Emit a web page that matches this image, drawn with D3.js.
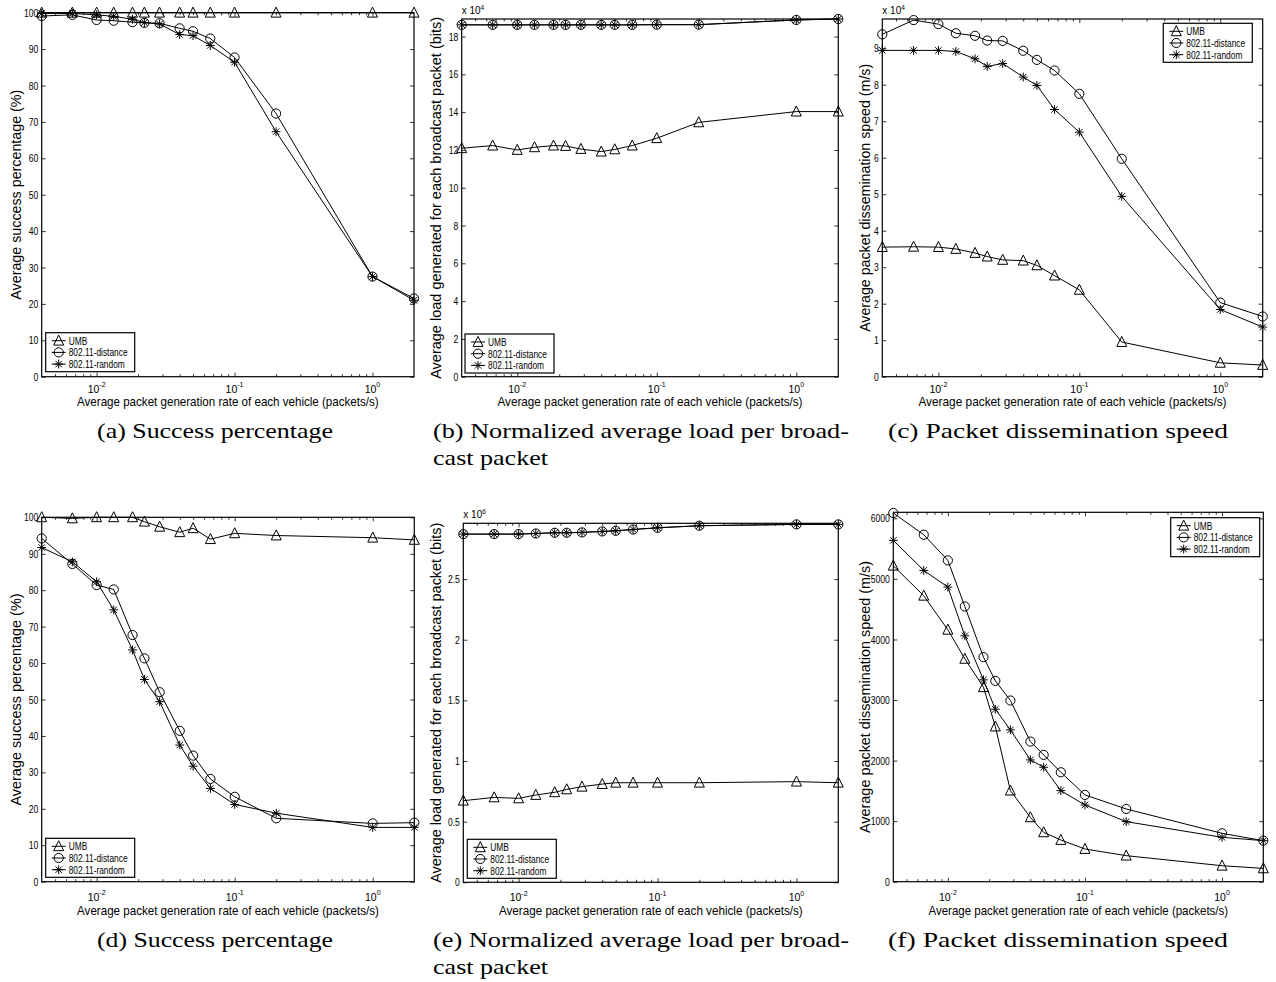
<!DOCTYPE html>
<html><head><meta charset="utf-8">
<script src="https://cdn.jsdelivr.net/npm/d3@7"></script>
<style>body{margin:0;background:#fff} svg{display:block}</style>
</head><body>
<svg id="fig" width="1276" height="982"></svg>
<script>
// ---------------- data ----------------
const rates = [0.004, 0.00667, 0.01, 0.0133, 0.0182, 0.0222, 0.0286, 0.04, 0.05, 0.0667, 0.1, 0.2, 1, 2];
const seriesNames = ["UMB", "802.11-distance", "802.11-random"];
const xMajorTicks = [0.01, 0.1, 1];
const xMajorExponents = ["-2", "-1", "0"];
const xTitle = "Average packet generation rate of each vehicle (packets/s)";

// (a) success percentage
const aTicks = [0,10,20,30,40,50,60,70,80,90,100];
const aUMB = [100,100,100,100,100,100,100,100,100,100,100,100,100,100];
const aDistance = [99.1,99.4,98.0,97.8,97.4,97.2,97.1,95.7,94.9,92.9,87.7,72.3,27.5,21.5];
const aRandom = [99.8,99.8,99.4,99.0,98.2,97.3,96.9,94.0,93.7,91.0,86.4,67.3,27.5,21.0];

// (b) load per broadcast packet (x 10^4 bits)
const bTicks = [0,2,4,6,8,10,12,14,16,18];
const bUMB = [12.09,12.23,12.0,12.14,12.23,12.21,12.05,11.91,12.03,12.23,12.62,13.46,14.03,14.03];
const bDistance = [18.62,18.62,18.62,18.62,18.62,18.62,18.62,18.62,18.62,18.62,18.63,18.63,18.88,18.93];
const bRandom = [18.62,18.62,18.62,18.62,18.62,18.62,18.62,18.62,18.62,18.62,18.63,18.63,18.88,18.93];

// (c) dissemination speed (x 10^4 m/s)
const cTicks = [0,1,2,3,4,5,6,7,8,9];
const cUMB = [3.55,3.56,3.55,3.50,3.39,3.29,3.20,3.18,3.05,2.77,2.38,0.95,0.38,0.32];
const cDistance = [9.38,9.77,9.66,9.41,9.34,9.21,9.20,8.93,8.68,8.39,7.75,5.97,2.03,1.65];
const cRandom = [8.94,8.94,8.94,8.91,8.71,8.50,8.58,8.21,7.98,7.32,6.70,4.94,1.84,1.36];

// (d) success percentage
const dTicks = [0,10,20,30,40,50,60,70,80,90,100];
const dUMB = [100,99.7,100,100,100,98.8,97.4,95.9,97.0,94.0,95.6,95.0,94.4,93.8];
const dDistance = [94.2,87.2,81.4,80.2,67.7,61.3,52.0,41.4,34.6,28.2,23.3,17.4,16.0,16.2];
const dRandom = [91.7,87.8,82.3,74.6,63.6,55.5,49.4,37.5,31.7,25.6,21.2,18.8,14.9,14.9];

// (e) load per broadcast packet (x 10^6 bits)
const eTicks = [0,0.5,1,1.5,2,2.5];
const eUMB = [0.673,0.700,0.692,0.720,0.742,0.766,0.788,0.810,0.821,0.821,0.821,0.821,0.830,0.821];
const eDistance = [2.871,2.871,2.871,2.876,2.882,2.882,2.885,2.893,2.898,2.909,2.923,2.940,2.951,2.951];
const eRandom = [2.871,2.871,2.871,2.876,2.882,2.882,2.885,2.893,2.898,2.909,2.923,2.940,2.951,2.951];

// (f) dissemination speed (m/s)
const fTicks = [0,1000,2000,3000,4000,5000,6000];
const fUMB = [5218,4722,4160,3680,3212,2562,1504,1063,815,689,540,430,264,220];
const fDistance = [6088,5730,5306,4545,3708,3317,2992,2314,2094,1807,1433,1201,799,678];
const fRandom = [5636,5140,4865,4061,3333,2848,2507,2011,1890,1504,1267,992,733,678];

const yTitles = {
  a: "Average success percentage (%)",
  b: "Average load generated for each broadcast packet (bits)",
  c: "Average packet dissemination speed (m/s)",
  d: "Average success percentage (%)",
  e: "Average load generated for each broadcast packet (bits)",
  f: "Average packet dissemination speed (m/s)"
};
const captions = {
  a: ["(a) Success percentage"],
  b: ["(b) Normalized average load per broad-", "cast packet"],
  c: ["(c) Packet dissemination speed"],
  d: ["(d) Success percentage"],
  e: ["(e) Normalized average load per broad-", "cast packet"],
  f: ["(f) Packet dissemination speed"]
};
const multipliers = { b: "4", c: "4", e: "6" };

// ---------------- layout ----------------
const panels = [
  {id:"a", ticks:aTicks, yMax:100,  series:[aUMB,aDistance,aRandom], x0:41.7, x1:414,   y0:12.7,  y1:376.7, ylabX:20.5,  ylabLen:210, leg:[45.7,332.7],  cap:[97,438,[236]],       xt:16, xl:29.5},
  {id:"b", ticks:bTicks, yMax:18.93,series:[bUMB,bDistance,bRandom], x0:461.7,x1:838.3, y0:19,    y1:376.7, ylabX:441,   ylabLen:362, leg:[465,334],     cap:[433,438,[416,115]],   xt:16, xl:29.5},
  {id:"c", ticks:cTicks, yMax:9.8,  series:[cUMB,cDistance,cRandom], x0:882.3,x1:1262.7,y0:19,    y1:376.7, ylabX:869.5, ylabLen:268, leg:[1163.3,23.3], cap:[888,438,[340]],       xt:16, xl:29.5},
  {id:"d", ticks:dTicks, yMax:100,  series:[dUMB,dDistance,dRandom], x0:41.7, x1:414.3, y0:517.3, y1:881.7, ylabX:20.5,  ylabLen:212, leg:[45.7,838.3],  cap:[97,947,[236]],       xt:19, xl:33.5},
  {id:"e", ticks:eTicks, yMax:2.96, series:[eUMB,eDistance,eRandom], x0:463.3,x1:838.3, y0:523.3, y1:882.3, ylabX:441,   ylabLen:360, leg:[467.3,839.3], cap:[433,947,[416,115]],   xt:19, xl:33},
  {id:"f", ticks:fTicks, yMax:6100, series:[fUMB,fDistance,fRandom], x0:893.3,x1:1263.3,y0:512.3, y1:881.7, ylabX:869.5, ylabLen:272, leg:[1170.7,517.7],cap:[888,947,[340]],       xt:19, xl:33.5}
];

const SANS = "'Liberation Sans', Arial, Helvetica, sans-serif";
const SERIF = "'Liberation Serif', 'Times New Roman', serif";
const svg = d3.select("#fig");

function squeeze(sel, f) {
  sel.each(function(){
    const L = this.getComputedTextLength();
    this.setAttribute("textLength", L * f);
    this.setAttribute("lengthAdjust", "spacingAndGlyphs");
  });
}

function drawMarker(g, kind, cx, cy) {
  if (kind === 0) {
    g.append("path").attr("d", `M${cx},${cy-5.6}L${cx+5},${cy+4.4}L${cx-5},${cy+4.4}Z`)
      .attr("fill","none").attr("stroke","#000").attr("stroke-width",1);
  } else if (kind === 1) {
    g.append("circle").attr("cx",cx).attr("cy",cy).attr("r",4.6)
      .attr("fill","none").attr("stroke","#000").attr("stroke-width",1);
  } else {
    const r = 4.4, q = 3.2;
    g.append("path").attr("d",
      `M${cx},${cy-r}L${cx},${cy+r}M${cx-r},${cy}L${cx+r},${cy}M${cx-q},${cy-q}L${cx+q},${cy+q}M${cx-q},${cy+q}L${cx+q},${cy-q}`)
      .attr("fill","none").attr("stroke","#000").attr("stroke-width",1);
  }
}

function minorTicks() {
  const out = [];
  for (let e = -3; e <= 0; e++) for (let k = 2; k <= 9; k++) {
    const v = k * Math.pow(10, e);
    if (v > 0.004 && v < 2) out.push(v);
  }
  return out;
}

panels.forEach(p => {
  const g = svg.append("g").attr("class","panel-"+p.id);
  const x = d3.scaleLog().domain([0.004, 2]).range([p.x0, p.x1]);
  const y = d3.scaleLinear().domain([0, p.yMax]).range([p.y1, p.y0]);

  const fmtY = d3.format("~g");
  const left = g.append("g").attr("transform",`translate(${p.x0},0)`)
    .call(d3.axisLeft(y).tickValues(p.ticks).tickSize(-4).tickPadding(3.5).tickFormat(fmtY));
  const right = g.append("g").attr("transform",`translate(${p.x1},0)`)
    .call(d3.axisRight(y).tickValues(p.ticks).tickSize(-4).tickFormat(""));
  const bottom = g.append("g").attr("transform",`translate(0,${p.y1})`)
    .call(d3.axisBottom(x).tickValues(xMajorTicks).tickSize(-4).tickFormat(""));
  const bottomMinor = g.append("g").attr("transform",`translate(0,${p.y1})`)
    .call(d3.axisBottom(x).tickValues(minorTicks()).tickSize(-2.5).tickFormat(""));
  const top = g.append("g").attr("transform",`translate(0,${p.y0})`)
    .call(d3.axisTop(x).tickValues(xMajorTicks).tickSize(-4).tickFormat(""));
  const topMinor = g.append("g").attr("transform",`translate(0,${p.y0})`)
    .call(d3.axisTop(x).tickValues(minorTicks()).tickSize(-2.5).tickFormat(""));
  [left,right,bottom,bottomMinor,top,topMinor].forEach(a => {
    a.select(".domain").remove();
    a.selectAll(".tick line").attr("stroke","#000").attr("stroke-width",0.8);
  });
  left.selectAll(".tick text").attr("font-family",SANS).attr("font-size",11).attr("fill","#000");
  squeeze(left.selectAll(".tick text"), 0.78);

  xMajorTicks.forEach((v,i) => {
    const t = g.append("text").attr("x", x(v)).attr("y", p.y1 + p.xt)
      .attr("font-family",SANS).attr("font-size",10.5).attr("text-anchor","middle").attr("fill","#000");
    t.append("tspan").text("10");
    t.append("tspan").attr("dy",-5.5).attr("font-size",7).text(xMajorExponents[i]);
  });

  g.append("rect").attr("x",p.x0).attr("y",p.y0).attr("width",p.x1-p.x0).attr("height",p.y1-p.y0)
    .attr("fill","none").attr("stroke","#000").attr("stroke-width",1.2);

  if (multipliers[p.id]) {
    const t = g.append("text").attr("x",p.x0).attr("y",p.y0-5)
      .attr("font-family",SANS).attr("font-size",10).attr("fill","#000");
    t.append("tspan").text("x 10");
    t.append("tspan").attr("dy",-4.5).attr("font-size",6.5).text(multipliers[p.id]);
  }

  const line = d3.line().x(d => x(d[0])).y(d => y(d[1]));
  p.series.forEach((vals, si) => {
    const pts = rates.map((r,i) => [r, vals[i]]);
    g.append("path").attr("d", line(pts)).attr("fill","none").attr("stroke","#000").attr("stroke-width",1);
    pts.forEach(d => drawMarker(g, si, x(d[0]), y(d[1])));
  });

  const [lx, ly] = p.leg;
  const lg = g.append("g");
  lg.append("rect").attr("x",lx).attr("y",ly).attr("width",89).attr("height",39)
    .attr("fill","#fff").attr("stroke","#000").attr("stroke-width",1.2);
  seriesNames.forEach((name, si) => {
    const ry = ly + 8 + si * 11.7;
    lg.append("line").attr("x1",lx+6).attr("x2",lx+20).attr("y1",ry).attr("y2",ry)
      .attr("stroke","#000").attr("stroke-width",1);
    drawMarker(lg, si, lx+13, ry);
    lg.append("text").attr("class","legtxt").attr("x",lx+23).attr("y",ry+4)
      .attr("font-family",SANS).attr("font-size",11).attr("fill","#000").text(name);
  });
  squeeze(lg.selectAll(".legtxt"), 0.76);

  const cy = (p.y0 + p.y1) / 2;
  g.append("text").attr("transform",`translate(${p.ylabX},${cy}) rotate(-90)`)
    .attr("text-anchor","middle").attr("font-family",SANS).attr("font-size",15).attr("fill","#000")
    .attr("textLength",p.ylabLen).attr("lengthAdjust","spacingAndGlyphs")
    .text(yTitles[p.id]);

  const xw = (p.x1 - p.x0) * 0.81;
  g.append("text").attr("x",(p.x0+p.x1)/2).attr("y",p.y1+p.xl)
    .attr("text-anchor","middle").attr("font-family",SANS).attr("font-size",13).attr("fill","#000")
    .attr("textLength",xw).attr("lengthAdjust","spacingAndGlyphs").text(xTitle);

  const [cx, cyb, widths] = p.cap;
  captions[p.id].forEach((ln, li) => {
    g.append("text").attr("x",cx).attr("y",cyb + li*27)
      .attr("font-family",SERIF).attr("font-size",22).attr("fill","#000")
      .attr("textLength",widths[li]).attr("lengthAdjust","spacingAndGlyphs").text(ln);
  });
});
</script>
</body></html>
